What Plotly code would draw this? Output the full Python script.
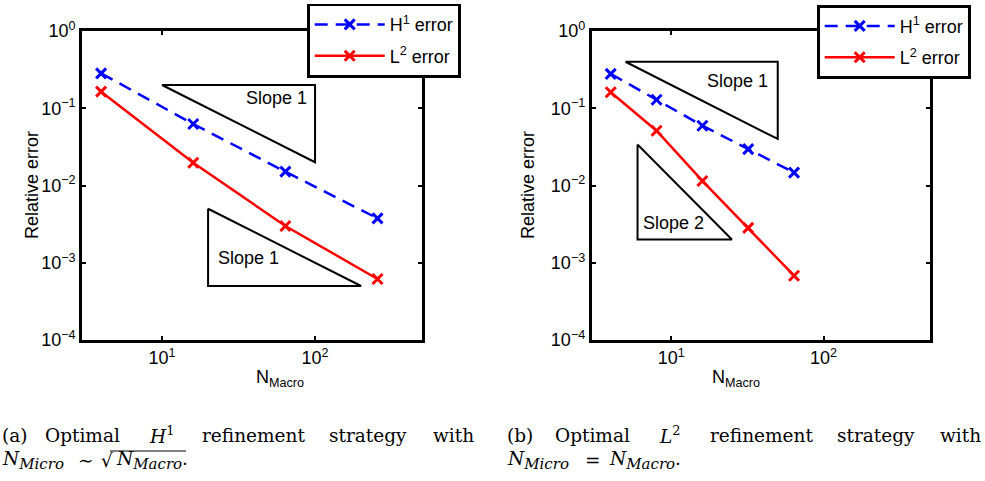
import numpy as np
import plotly.graph_objects as go

# ---------------- data ----------------
n_left = [4, 16, 64, 256]
h1_left = [0.283, 0.0625, 0.0151, 0.00376]
l2_left = [0.164, 0.0197, 0.00299, 0.000616]

n_right = [4, 8, 16, 32, 64]
h1_right = [0.279, 0.129, 0.0594, 0.0296, 0.0147]
l2_right = [0.161, 0.0512, 0.01145, 0.00283, 0.00068]

# slope triangles (x, y vertices)
tri_left_a_x = [10, 100, 100, 10]
tri_left_a_y = [0.2, 0.2, 0.02, 0.2]
tri_left_b_x = [20, 20, 200, 20]
tri_left_b_y = [0.005, 0.0005, 0.0005, 0.005]
tri_right_a_x = [5, 50, 50, 5]
tri_right_a_y = [0.4, 0.4, 0.04, 0.4]
tri_right_b_x = [6, 6, 25, 6]
tri_right_b_y = [0.034, 0.002, 0.002, 0.034]

# slope labels (x, y, text)
slope_labels_left = [(55.6, 0.137, "Slope 1"), (37, 0.00116, "Slope 1")]
slope_labels_right = [(27.2, 0.224, "Slope 1"), (10.3, 0.0033, "Slope 2")]

x_tickvals = [10, 100]
x_ticktext = ["10<sup>1</sup>", "10<sup>2</sup>"]
y_tickvals = [1, 0.1, 0.01, 0.001, 0.0001]
y_ticktext = ["10<sup>0</sup>", "10<sup>−1</sup>", "10<sup>−2</sup>",
              "10<sup>−3</sup>", "10<sup>−4</sup>"]

legend_names = ["H<sup>1</sup> error", "L<sup>2</sup> error"]

# ---------------- figure ----------------
W, H = 985, 481
SANS = "Liberation Sans, Arial, sans-serif"
SERIF = "DejaVu Serif, serif"
FS = 18

fig = go.Figure()

BLUE = "rgb(0,0,255)"
RED = "rgb(255,0,0)"


def add_series(xs, h1, l2, xa, ya, leg):
    fig.add_trace(go.Scatter(
        x=xs, y=h1, mode="lines+markers", name=legend_names[0],
        legendgroup=leg + "h1",
        line=dict(color=BLUE, width=2.5, dash="13px,8px"),
        marker=dict(symbol="x-thin", size=10, line=dict(color=BLUE, width=3)),
        xaxis=xa, yaxis=ya, legend=leg))
    fig.add_trace(go.Scatter(
        x=xs, y=l2, mode="lines+markers", name=legend_names[1],
        legendgroup=leg + "l2",
        line=dict(color=RED, width=2.5),
        marker=dict(symbol="x-thin", size=10, line=dict(color=RED, width=3)),
        xaxis=xa, yaxis=ya, legend=leg))


def add_tri(tx, ty, xa, ya):
    fig.add_trace(go.Scatter(
        x=tx, y=ty, mode="lines", line=dict(color="black", width=2),
        showlegend=False, hoverinfo="skip", xaxis=xa, yaxis=ya))


add_series(n_left, h1_left, l2_left, "x", "y", "legend")
add_tri(tri_left_a_x, tri_left_a_y, "x", "y")
add_tri(tri_left_b_x, tri_left_b_y, "x", "y")

add_series(n_right, h1_right, l2_right, "x2", "y2", "legend2")
add_tri(tri_right_a_x, tri_right_a_y, "x2", "y2")
add_tri(tri_right_b_x, tri_right_b_y, "x2", "y2")

xr = [np.log10(3), np.log10(500)]
yr = [-4, 0]

axis_common = dict(
    type="log", showgrid=False, zeroline=False,
    showline=True, linecolor="black", linewidth=2.7, mirror="ticks",
    ticks="inside", ticklen=4, tickwidth=1.5, tickcolor="black",
    tickfont=dict(family=SANS, size=FS, color="black"),
)

y_top = (H - 31) / H
y_bot = (H - 340) / H

legend_common = dict(xanchor="left", yanchor="top",
                     bgcolor="white", bordercolor="black", borderwidth=2.7,
                     font=dict(family=SANS, size=FS, color="black"),
                     tracegroupgap=5, itemwidth=70)

fig.update_layout(
    width=W, height=H,
    margin=dict(l=0, r=0, t=0, b=0, autoexpand=False),
    paper_bgcolor="white", plot_bgcolor="white",
    showlegend=True,
    xaxis=dict(domain=[82 / W, 422 / W], range=xr, anchor="y",
               tickvals=x_tickvals, ticktext=x_ticktext, **axis_common),
    yaxis=dict(domain=[y_bot, y_top], range=yr, anchor="x",
               tickvals=y_tickvals, ticktext=y_ticktext, **axis_common),
    xaxis2=dict(domain=[591.7 / W, 930 / W], range=xr, anchor="y2",
                tickvals=x_tickvals, ticktext=x_ticktext, **axis_common),
    yaxis2=dict(domain=[y_bot, y_top], range=yr, anchor="x2",
                tickvals=y_tickvals, ticktext=y_ticktext, **axis_common),
    legend=dict(x=307 / W, y=(H - 3.5) / H, **legend_common),
    legend2=dict(x=817 / W, y=(H - 5) / H, **legend_common),
)

annotations = []
for (xv, yv, t) in slope_labels_left:
    annotations.append(dict(x=np.log10(xv), y=np.log10(yv), xref="x", yref="y",
                            text=t, showarrow=False,
                            font=dict(family=SANS, size=FS, color="black")))
for (xv, yv, t) in slope_labels_right:
    annotations.append(dict(x=np.log10(xv), y=np.log10(yv), xref="x2", yref="y2",
                            text=t, showarrow=False,
                            font=dict(family=SANS, size=FS, color="black")))

# axis titles
for xc in (20, 528):
    annotations.append(dict(x=xc / W, y=(H - 185) / H, xref="paper", yref="paper",
                            text="Relative error", textangle=-90, showarrow=False,
                            font=dict(family=SANS, size=FS, color="black")))
for xc in (254, 762):
    annotations.append(dict(x=xc / W, y=(H - 392) / H, xref="paper", yref="paper",
                            text="N<sub>Macro</sub>", showarrow=False,
                            font=dict(family=SANS, size=FS, color="black")))

# captions (justified word by word)
SUBM = "<sub><span style='font-size:15px'><i>Micro</i></span></sub>"
SUBA = "<sub><span style='font-size:15px'><i>Macro</i></span></sub>"
cap_a_words = [(0, "(a)"), (43, "Optimal"), (147, "<i>H</i><sup>1</sup>"),
               (200, "refinement"), (327, "strategy"), (431, "with")]
cap_b_words = [(505, "(b)"), (553, "Optimal"), (657, "<i>L</i><sup>2</sup>"),
               (708, "refinement"), (835, "strategy"), (938, "with")]
cap_a_line2 = [(0, "<i>N</i>" + SUBM), (76, "∼"), (99, "√"), (114, "<i>N</i>" + SUBA + ".")]
cap_b_line2 = [(505, "<i>N</i>" + SUBM), (583, "="), (607, "<i>N</i>" + SUBA + ".")]
cap_font = dict(family=SERIF, size=18.5, color="black")
for (xl, t) in cap_a_words + cap_b_words:
    annotations.append(dict(x=xl / W, y=(H - 435) / H, xref="paper", yref="paper",
                            xanchor="left", yanchor="middle", text=t, showarrow=False,
                            font=cap_font))
for (xl, t) in cap_a_line2 + cap_b_line2:
    annotations.append(dict(x=xl / W, y=(H - 460) / H, xref="paper", yref="paper",
                            xanchor="left", yanchor="middle", text=t, showarrow=False,
                            font=cap_font))

fig.update_layout(annotations=annotations)

# overline of the square root in caption (a)
fig.add_shape(type="line", xref="paper", yref="paper",
              x0=110 / W, x1=186 / W, y0=(H - 451) / H, y1=(H - 451) / H,
              line=dict(color="black", width=1))

fig.write_html("out.html", config={"displayModeBar": False},
               post_script="document.body.style.margin='0';document.body.style.overflow='hidden';")
